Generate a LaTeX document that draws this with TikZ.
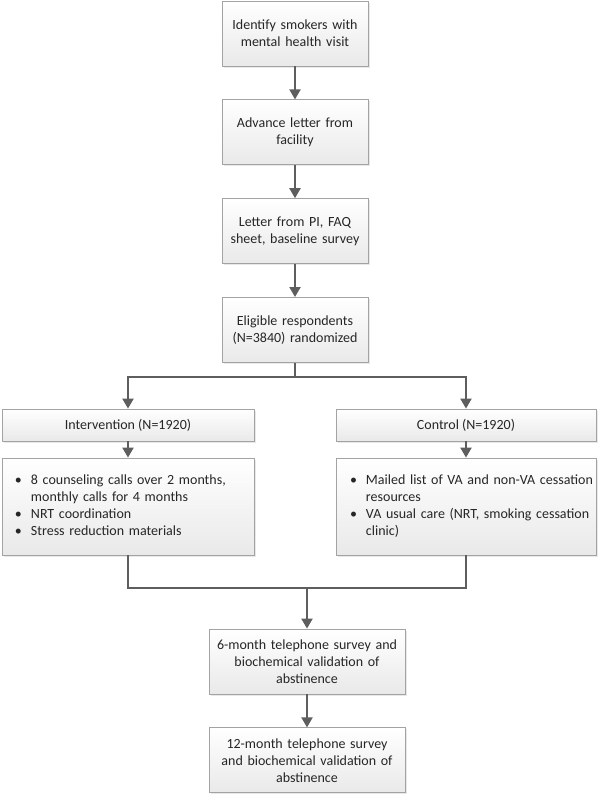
\documentclass[tikz,border=0pt]{standalone}
\usepackage{fontspec}
\setmainfont{Carlito}
\usetikzlibrary{arrows.meta, positioning, shadows}
\definecolor{boxLine}{HTML}{A3A3A3}
\definecolor{boxTop}{HTML}{FFFFFF}
\definecolor{boxBottom}{HTML}{E9E9E9}
\definecolor{flowGray}{HTML}{5E5E5E}
\definecolor{textDark}{HTML}{262626}
\newcommand{\bulletlist}[1]{\begin{tabular}{@{}l@{\hspace{9pt}}l@{}}#1\end{tabular}}

\begin{document}
\begin{tikzpicture}[
  x=1pt, y=-1pt,
  font=\fontsize{14}{17}\selectfont,
  text=textDark,
  >={Triangle[length=10pt, width=11pt]},
  node distance=33pt,
  flowbox/.style={rectangle, draw=boxLine, line width=0.8pt,
               top color=boxTop, bottom color=boxBottom,
               drop shadow={opacity=0.18, shadow xshift=1.5pt, shadow yshift=-1.5pt},
               inner sep=3pt, align=center},
  stepbox/.style={flowbox, text width=140pt, minimum height=65pt},
  armbox/.style={flowbox, minimum height=32pt},
  listbox/.style={flowbox, minimum height=97pt, align=left},
  outbox/.style={flowbox, text width=190pt, minimum height=65pt},
  flow/.style={draw=flowGray, line width=2pt},
]
\useasboundingbox (0,0) rectangle (600,796);

% main column
\node[stepbox] (identify) at (295,33.5) {Identify smokers with\\mental health visit};
\node[stepbox, below=of identify] (advance) {Advance letter from\\facility};
\node[stepbox, below=of advance] (letter) {Letter from PI, FAQ\\sheet, baseline survey};
\node[stepbox, below=of letter] (random) {Eligible respondents\\(N=3840) randomized};

% the two arms
\node[armbox, minimum width=252pt] (interv) at (128,425) {Intervention (N=1920)};
\node[armbox, minimum width=260pt] (ctrl) at (466,425) {Control (N=1920)};

\node[listbox, text width=226pt, inner xsep=13pt] (intlist) at (128,506.5) {\bulletlist{%
  \textbullet & 8 counseling calls over 2 months,\\
              & monthly calls for 4 months\\
  \textbullet & NRT coordination\\
  \textbullet & Stress reduction materials}};
\node[listbox, text width=232pt, inner xsep=14pt] (ctrllist) at (466,506.5) {\bulletlist{%
  \textbullet & Mailed list of VA and non-VA cessation\\
              & resources\\
  \textbullet & VA usual care (NRT, smoking cessation\\
              & clinic)}};

% follow-up
\node[outbox] (sixmo) at (307,661.5) {6-month telephone survey and\\biochemical validation of\\abstinence};
\node[outbox, below=of sixmo] (twelvemo) {12-month telephone survey\\and biochemical validation of\\abstinence};

\coordinate (split) at (295,377);
\coordinate (merge) at (307,588);

\draw[flow, ->] (identify) -- (advance);
\draw[flow, ->] (advance) -- (letter);
\draw[flow, ->] (letter) -- (random);
\draw[flow] (random) -- (split);
\draw[flow, ->] (split) -| (interv);
\draw[flow, ->] (split) -| (ctrl);
\draw[flow, ->] (interv) -- (intlist);
\draw[flow, ->] (ctrl) -- (ctrllist);
\draw[flow] (intlist) |- (merge) -| (ctrllist);
\draw[flow, ->] (merge) -- (sixmo);
\draw[flow, ->] (sixmo) -- (twelvemo);

\end{tikzpicture}
\end{document}
